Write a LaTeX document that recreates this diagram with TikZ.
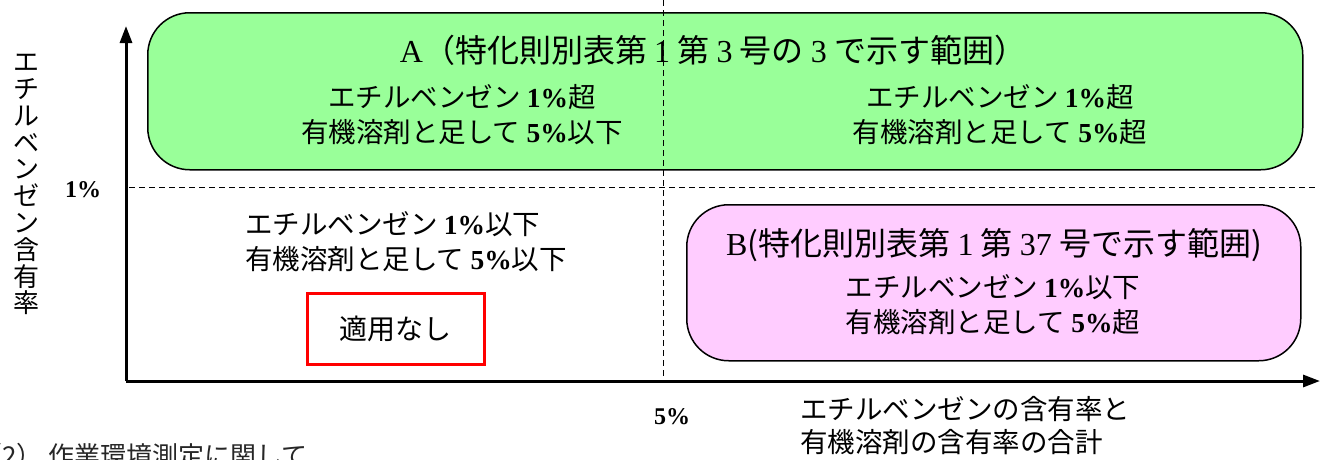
\documentclass[tikz,border=0pt]{standalone}
\usepackage{fontspec}
\setmainfont{Noto Sans CJK JP}
\newfontfamily\lat{Liberation Serif}
\usetikzlibrary{arrows.meta}
\definecolor{greenA}{RGB}{153,255,153}
\definecolor{pinkB}{RGB}{255,204,255}
\definecolor{redbox}{RGB}{255,0,0}
\newcommand{\num}[1]{{\lat\bfseries #1}}
\begin{document}
\begin{tikzpicture}[x=1pt,y=-1pt,
  axisline/.style={line width=3pt,-{Triangle[length=17pt,width=12pt]}},
  guide/.style={line width=1pt,dash pattern=on 6pt off 4pt},
  region/.style={draw=black,line width=1.5pt,rounded corners=42pt,anchor=north west},
  body/.style={font=\fontsize{27.5}{35}\selectfont,inner sep=0pt,align=center},
  head/.style={font=\fontsize{32}{36}\selectfont,inner sep=0pt},
  ticklabel/.style={font=\fontsize{24}{28}\selectfont,inner sep=0pt}]
\useasboundingbox (0,0) rectangle (1325,459);
% regions
\node[region,fill=greenA,minimum width=1155pt,minimum height=157pt] (A) at (147,12) {};
\node[region,fill=pinkB,minimum width=614pt,minimum height=156pt] (B) at (686,204) {};
% axes
\coordinate (O) at (126,381);
\coordinate (ytip) at (126,26);
\coordinate (xtip) at (1320,381);
\draw[axisline] (O) -- (ytip);
\draw[axisline] (O) -- (xtip);
% guides
\coordinate (v1) at (663,0);
\coordinate (v2) at (663,378);
\coordinate (h1) at (129,187);
\coordinate (h2) at (1318,187);
\draw[guide] (v1) -- (v2);
\draw[guide] (h1) -- (h2);
% tick labels
\node[ticklabel] (t1) at (83,190) {\num{1\%}};
\node[ticklabel] (t5) at (672,417) {\num{5\%}};
% axis titles
\node[font=\fontsize{26}{26.8}\selectfont,inner sep=0pt,align=center,anchor=north] (ylab) at (26,54)
  {エ\\チ\\ル\\ベ\\ン\\ゼ\\ン\\含\\有\\率};
\node[font=\fontsize{27.5}{33}\selectfont,inner sep=0pt,align=left,anchor=north west] (xlab) at (800,396)
  {エチルベンゼンの含有率と\\有機溶剤の含有率の合計};
% A texts
\node[head] (Ahead) at (713,50) {{\lat A}（特化則別表第 {\lat 1} 第 {\lat 3} 号の {\lat 3} で示す範囲）};
\node[body] (Aleft) at (462,115) {エチルベンゼン \num{1\%}超\\有機溶剤と足して \num{5\%}以下};
\node[body] (Aright) at (1000,115) {エチルベンゼン \num{1\%}超\\有機溶剤と足して \num{5\%}超};
% lower-left
\node[body,align=left,anchor=north west] (Cl) at (245,211) {エチルベンゼン \num{1\%}以下\\有機溶剤と足して \num{5\%}以下};
\node[draw=redbox,line width=3pt,minimum width=177pt,minimum height=71pt,font=\fontsize{28}{30}\selectfont] (none) at (395.5,328.5) {適用なし};
% B texts
\node[head] (Bhead) at (994,245) {{\lat B}(特化則別表第 {\lat 1} 第 {\lat 37} 号で示す範囲)};
\node[body] (Bbody) at (993,305) {エチルベンゼン \num{1\%}以下\\有機溶剤と足して \num{5\%}超};
% cut-off caption
\begin{scope}
\clip (0,0) rectangle (1325,459);
\node[font=\fontsize{26}{28}\selectfont,inner sep=0pt,anchor=north west,text=black!85] (cap) at (-24,443) {（2） 作業環境測定に関して};
\end{scope}
\end{tikzpicture}
\end{document}
